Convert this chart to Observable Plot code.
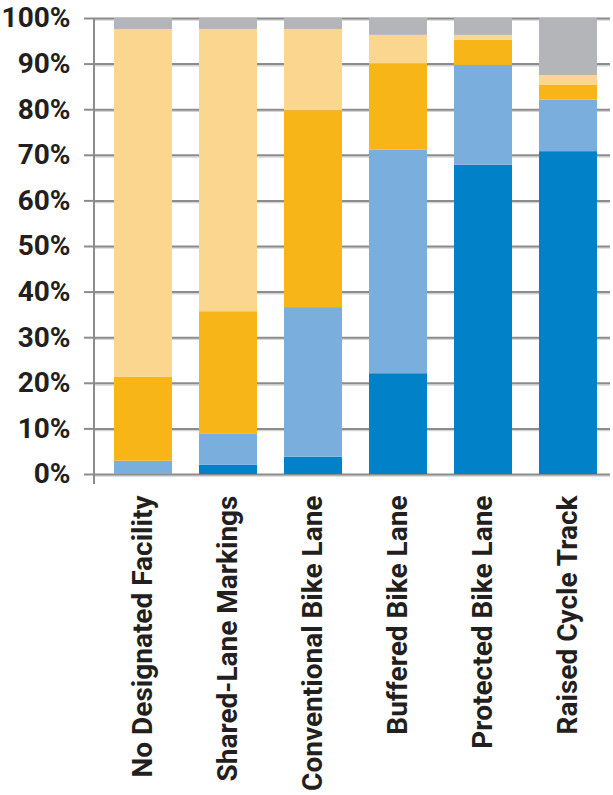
<!DOCTYPE html>
<html>
<head>
<meta charset="utf-8">
<script src="https://cdn.jsdelivr.net/npm/d3@7"></script>
<script src="https://cdn.jsdelivr.net/npm/@observablehq/plot@0.6"></script>
<style>
  html, body { margin: 0; padding: 0; background: #fff; }
  #chart svg { display: block; }
</style>
</head>
<body>
<div id="chart"></div>
<script>
const categories = ["No Designated Facility", "Shared-Lane Markings", "Conventional Bike Lane", "Buffered Bike Lane", "Protected Bike Lane", "Raised Cycle Track"];
const seriesNames = ["Level 1", "Level 2", "Level 3", "Level 4", "Level 5"];
const level1 = [0, 2.0, 3.8, 22.1, 67.8, 70.8];
const level2 = [2.9, 6.8, 32.8, 49.0, 21.9, 11.3];
const level3 = [18.4, 26.9, 43.2, 18.9, 5.5, 3.3];
const level4 = [76.3, 61.9, 17.8, 6.3, 1.1, 2.1];
const level5 = [2.4, 2.4, 2.4, 3.7, 3.7, 12.5];
const seriesColors = ["#0081c8", "#7aafdd", "#f7b518", "#fbd68e", "#b4b5b9"];
const yTicks = [0, 10, 20, 30, 40, 50, 60, 70, 80, 90, 100];

const seriesValues = [level1, level2, level3, level4, level5];
const rows = [];
seriesNames.forEach((s, si) => {
  categories.forEach((c, ci) => rows.push({category: c, series: s, value: seriesValues[si][ci]}));
});

const axisLine = (index, scales, values, dimensions) => {
  const g = d3.create("svg:g");
  g.append("line")
    .attr("x1", dimensions.marginLeft).attr("x2", dimensions.marginLeft)
    .attr("y1", scales.y(100)).attr("y2", scales.y(0) + 10)
    .attr("stroke", "#8c8c8c").attr("stroke-width", 2);
  return g.node();
};

const chart = Plot.plot({
  width: 613,
  height: 795,
  marginTop: 18,
  marginBottom: 321,
  marginLeft: 94,
  marginRight: 3,
  style: {fontFamily: "Roboto, 'Liberation Sans', sans-serif", fontWeight: "bold", color: "#231f20", background: "#fff"},
  x: {domain: categories, range: [99, 612], paddingInner: 0.32, paddingOuter: 0.16, label: null},
  y: {domain: [0, 100], label: null},
  color: {domain: seriesNames, range: seriesColors},
  marks: [
    Plot.ruleY(yTicks, {stroke: "#d4d4d4", strokeWidth: 1.5, dy: 1.6}),
    Plot.ruleY(yTicks, {stroke: "#8c8c8c", strokeWidth: 2}),
    Plot.barY(rows, {x: "category", y: "value", fill: "series", order: seriesNames}),
    Plot.axisY({ticks: yTicks, tickFormat: d => d + "%", tickSize: 10, tickPadding: 14, fontSize: 28, stroke: "#8c8c8c", strokeWidth: 2, strokeOpacity: 1, fill: "#231f20", label: null}),
    Plot.axisX({tickSize: 0, tickPadding: 21, tickRotate: -90, fontSize: 28, fill: "#231f20", label: null}),
    axisLine
  ]
});
document.getElementById("chart").appendChild(chart);
</script>
</body>
</html>
